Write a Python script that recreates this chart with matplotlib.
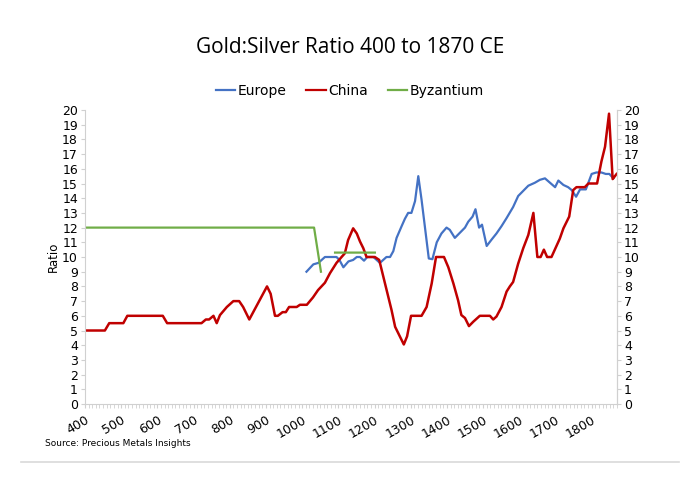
import numpy as np
import matplotlib
matplotlib.use("Agg")
import matplotlib.pyplot as plt
from matplotlib.ticker import MultipleLocator
from matplotlib.lines import Line2D

# ---- data ----
europe_years = [1012, 1031, 1045, 1063, 1095, 1103, 1114, 1128, 1141, 1151,
                1160, 1171, 1180, 1197, 1206, 1215, 1224, 1233, 1243, 1252,
                1261, 1275, 1284, 1293, 1302, 1312, 1321, 1330, 1339, 1350,
                1360, 1372, 1385, 1399, 1408, 1422, 1436, 1450, 1459, 1471,
                1479, 1489, 1497, 1510, 1524, 1537, 1551, 1565, 1583, 1597,
                1611, 1625, 1643, 1657, 1671, 1685, 1699, 1708, 1722, 1735,
                1745, 1757, 1768, 1784, 1800, 1813, 1827, 1839, 1849, 1860]
europe_ratio = [9.0, 9.5, 9.6, 10.0, 10.0, 9.8, 9.3, 9.7, 9.8, 10.0,
                10.0, 9.75, 10.0, 10.0, 9.8, 9.6, 9.8, 10.0, 10.0, 10.4,
                11.3, 12.1, 12.6, 13.0, 13.0, 13.8, 15.5, 13.9, 12.1, 9.9,
                9.85, 11.0, 11.6, 12.0, 11.85, 11.3, 11.65, 12.0, 12.4, 12.75,
                13.25, 12.0, 12.2, 10.75, 11.2, 11.6, 12.1, 12.65, 13.4, 14.15,
                14.5, 14.85, 15.05, 15.25, 15.35, 15.05, 14.75, 15.2, 14.9, 14.75,
                14.55, 14.1, 14.6, 14.6, 15.65, 15.75, 15.75, 15.65, 15.65, 15.35]

china_years = [400, 455, 467, 506, 517, 615, 627, 722, 734, 743,
               755, 764, 773, 792, 810, 826, 837, 854, 903, 913,
               925, 933, 946, 955, 964, 985, 994, 1013, 1030, 1044,
               1063, 1077, 1095, 1109, 1118, 1127, 1141, 1151, 1160, 1169,
               1178, 1201, 1213, 1220, 1229, 1247, 1257, 1266, 1281, 1290,
               1301, 1330, 1344, 1358, 1370, 1392, 1404, 1418, 1431, 1440,
               1450, 1461, 1473, 1491, 1519, 1528, 1537, 1551, 1565, 1574,
               1583, 1597, 1611, 1625, 1639, 1650, 1659, 1668, 1677, 1689,
               1712, 1722, 1738, 1749, 1758, 1781, 1791, 1815, 1827, 1837,
               1848, 1858, 1869]
china_ratio = [5.0, 5.0, 5.5, 5.5, 6.0, 6.0, 5.5, 5.5, 5.75, 5.75,
               6.0, 5.5, 6.05, 6.6, 7.0, 7.0, 6.6, 5.75, 8.0, 7.5,
               6.0, 6.0, 6.25, 6.25, 6.6, 6.6, 6.75, 6.75, 7.25, 7.75,
               8.25, 8.9, 9.6, 10.0, 10.25, 11.15, 11.95, 11.6, 11.05, 10.6,
               10.0, 10.0, 9.8, 9.1, 8.2, 6.4, 5.25, 4.8, 4.05, 4.6,
               6.0, 6.0, 6.6, 8.2, 10.0, 10.0, 9.3, 8.2, 7.05, 6.05,
               5.85, 5.3, 5.6, 6.0, 6.0, 5.75, 5.95, 6.6, 7.65, 8.0,
               8.3, 9.55, 10.6, 11.5, 13.0, 10.0, 10.0, 10.5, 10.0, 10.0,
               11.25, 11.95, 12.75, 14.55, 14.75, 14.75, 15.0, 15.0, 16.5, 17.5,
               19.75, 15.3, 15.65]

# NaN breaks the Byzantium line into two pieces
byz_years = [400, 1033, 1052, 1070, 1091, 1201]
byz_ratio = [12.0, 12.0, 9.0, np.nan, 10.3, 10.3]

x_ticks = list(range(400, 1801, 100))
y_ticks = list(range(0, 21))

# ---- figure ----
plt.rcParams["font.family"] = ["DejaVu Sans"]
fig = plt.figure(figsize=(7.0, 4.88), dpi=100)
ax = fig.add_axes([0.1214, 0.1721, 0.76, 0.6025])

ax.plot(europe_years, europe_ratio, color="#4472C4", lw=1.6, label="Europe")
ax.plot(china_years, china_ratio, color="#C00000", lw=1.8, label="China")
ax.plot(byz_years, byz_ratio, color="#70AD47", lw=1.6, label="Byzantium")

ax.set_xlim(400, 1870)
ax.set_ylim(0, 20)
ax.set_yticks(y_ticks)
ax.set_xticks(x_ticks)
ax.xaxis.set_minor_locator(MultipleLocator(10))
ax.set_xticklabels([str(t) for t in x_ticks], rotation=30, ha="right",
                   rotation_mode="anchor", fontsize=9)
ax.tick_params(axis="y", labelsize=9, length=3, color="#d0d0d0", pad=2)
ax.tick_params(axis="x", which="both", length=3, color="#d0d0d0", pad=4)
ax.set_ylabel("Ratio", fontsize=8.5, labelpad=2)

for s in ["top"]:
    ax.spines[s].set_visible(False)
for s in ["left", "right", "bottom"]:
    ax.spines[s].set_color("#d0d0d0")

ax2 = ax.twinx()
ax2.set_ylim(0, 20)
ax2.set_yticks(y_ticks)
ax2.tick_params(axis="y", labelsize=9, length=3, color="#d0d0d0", pad=2)
for s in ["top", "left", "bottom"]:
    ax2.spines[s].set_visible(False)
ax2.spines["right"].set_color("#d0d0d0")

fig.text(0.5, 0.902, "Gold:Silver Ratio 400 to 1870 CE", ha="center",
         va="center", fontsize=15, family=["Open Sans", "DejaVu Sans"])

handles = [Line2D([0], [0], color="#4472C4", lw=1.6),
           Line2D([0], [0], color="#C00000", lw=1.6),
           Line2D([0], [0], color="#70AD47", lw=1.6)]
fig.legend(handles, ["Europe", "China", "Byzantium"], loc="center",
           bbox_to_anchor=(0.5, 0.814), ncol=3, frameon=False, fontsize=10,
           handlelength=1.4, handletextpad=0.2, columnspacing=1.4)

fig.text(0.064, 0.092, "Source: Precious Metals Insights", fontsize=6.5,
         ha="left", va="center")
fig.add_artist(Line2D([0.03, 0.97], [0.053, 0.053], color="#d9d9d9", lw=1.2))

fig.savefig("out.png", dpi=100)
